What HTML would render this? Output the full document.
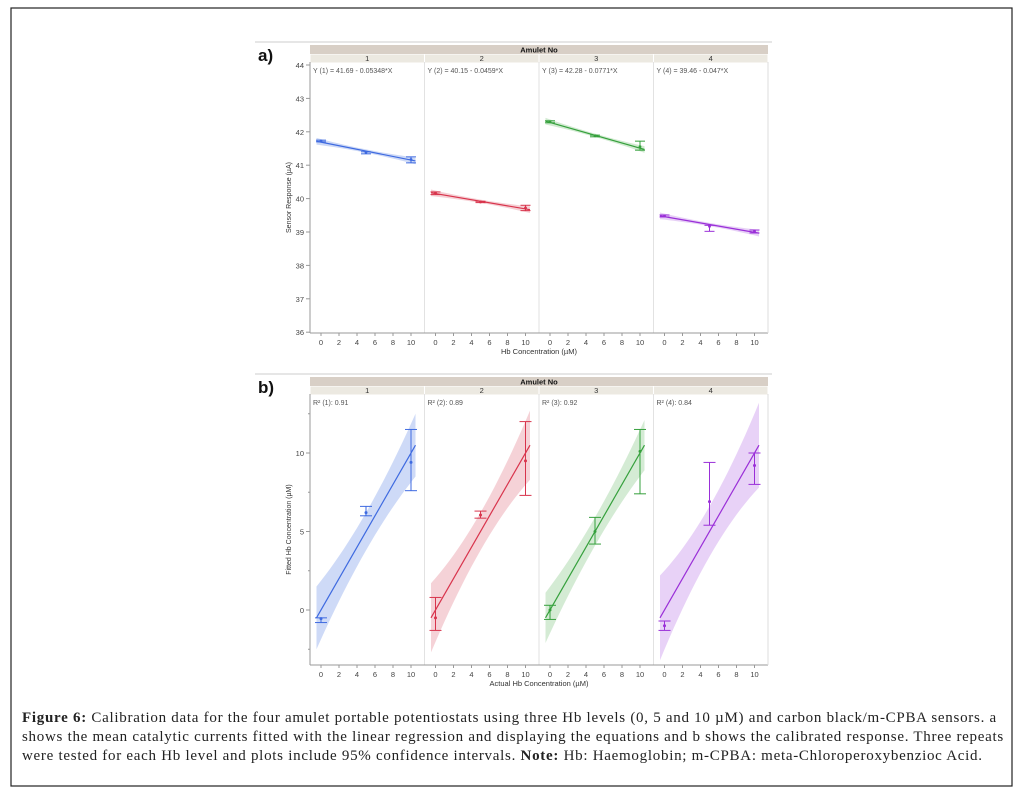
<!DOCTYPE html>
<html><head><meta charset="utf-8"><style>
body{margin:0;background:#fff;width:1020px;height:793px;overflow:hidden;position:relative}
svg{position:absolute;left:0;top:0}
.cap{position:absolute;left:22px;top:709px;width:990px;font-family:"Liberation Serif",serif;font-size:15px;letter-spacing:0.72px;line-height:19px;color:#222}
</style></head><body>
<svg id="fig" width="1020" height="793" xmlns="http://www.w3.org/2000/svg"></svg>
<div class="cap"><b>Figure 6:</b> Calibration data for the four amulet portable potentiostats using three Hb levels (0, 5 and 10 µM) and carbon black/m-CPBA sensors. a shows the mean catalytic currents fitted with the linear regression and displaying the equations and b shows the calibrated response. Three repeats were tested for each Hb level and plots include 95% confidence intervals. <b>Note:</b> Hb: Haemoglobin; m-CPBA: meta-Chloroperoxybenzioc Acid.</div>
<script>
const amulets=["1","2","3","4"];
const levels=[0,5,10];
// panel a data
const aIntercept=[41.69,40.15,42.28,39.46];
const aSlope=[-0.05348,-0.0459,-0.0771,-0.047];
const aMeans=[[41.72,41.38,41.17],[40.17,39.9,39.72],[42.3,41.88,41.55],[39.48,39.17,39.02]];
const aErrLo=[[41.70,41.34,41.07],[40.12,39.88,39.64],[42.27,41.85,41.45],[39.45,39.02,38.97]];
const aErrHi=[[41.75,41.40,41.25],[40.20,39.92,39.80],[42.33,41.90,41.72],[39.51,39.20,39.06]];
const aEq=["Y (1) = 41.69 - 0.05348*X","Y (2) = 40.15 - 0.0459*X","Y (3) = 42.28 - 0.0771*X","Y (4) = 39.46 - 0.047*X"];
const aYTicks=[36,37,38,39,40,41,42,43,44];
// panel b data
const bMeans=[[-0.55,6.2,9.4],[-0.5,6.05,9.5],[0.0,5.0,10.1],[-1.0,6.9,9.2]];
const bErrLo=[[-0.8,6.0,7.6],[-1.3,5.85,7.3],[-0.6,4.2,7.4],[-1.3,5.4,8.0]];
const bErrHi=[[-0.5,6.6,11.5],[0.8,6.3,12.0],[0.3,5.9,11.5],[-0.7,9.4,10.0]];
const bR2=["R² (1): 0.91","R² (2): 0.89","R² (3): 0.92","R² (4): 0.84"];
const bHwMid=[1.2,1.2,0.9,1.6];
const bHwEnd=[2.0,2.2,1.6,2.7];
const bYTicks=[0,5,10];
const xTicks=[0,2,4,6,8,10];
const colors=["#3e6ae0","#d8344c","#35a03c","#9a2fd8"];
const bands=["#c9d6f6","#f4cdd3","#cfe9cf","#e6cdf6"];

const svg=document.getElementById('fig');
const NS="http://www.w3.org/2000/svg";
function mk(tag,attrs,parent){const e=document.createElementNS(NS,tag);for(const k in attrs)e.setAttribute(k,attrs[k]);(parent||svg).appendChild(e);return e;}
function txt(s,x,y,size,anchor,fill,weight,parent){const t=mk('text',{x:x,y:y,'font-size':size,'text-anchor':anchor||'start',fill:fill||'#333','font-family':'Liberation Sans, sans-serif','font-weight':weight||'normal'},parent);t.textContent=s;return t;}

mk('rect',{x:11,y:8,width:1001,height:778,fill:'none',stroke:'#222','stroke-width':1.2});

const X0=310,PW=114.5;
function xs(p,v){return X0+p*PW+11+v*9;}

function drawPanel(cfg){
  const g=mk('g',{});
  
  
  mk('line',{x1:X0-55,y1:cfg.hTop-3,x2:X0+4*PW+4,y2:cfg.hTop-3,stroke:'#ccc'},g);
  txt(cfg.label,258,cfg.hTop+16,17,'start','#111','bold',g);
  const hb=mk('rect',{x:X0,y:cfg.hTop,width:4*PW,height:9,fill:'#d8cfc6'},g);
  
  txt('Amulet No',X0+2*PW,cfg.hTop+7.5,7.5,'middle','#111','bold',g);
  for(let p=0;p<4;p++){
    mk('rect',{x:X0+p*PW+0.5,y:cfg.hTop+9.5,width:PW-1,height:8,fill:'#ece9e1'},g);
    txt(amulets[p],X0+p*PW+PW/2,cfg.hTop+16,7.5,'middle','#333','normal',g);
    if(p>0)mk('line',{x1:X0+p*PW,y1:cfg.top,x2:X0+p*PW,y2:cfg.bot,stroke:'#e2e2e2'},g);
  }
  mk('line',{x1:X0,y1:cfg.top,x2:X0,y2:cfg.bot,stroke:'#999'},g);
  mk('line',{x1:X0,y1:cfg.bot,x2:X0+4*PW,y2:cfg.bot,stroke:'#999'},g);
  mk('line',{x1:X0+4*PW,y1:cfg.top,x2:X0+4*PW,y2:cfg.bot,stroke:'#ddd'},g);
  cfg.yTicks.forEach(v=>{const y=cfg.ys(v);mk('line',{x1:X0-4,y1:y,x2:X0,y2:y,stroke:'#999'},g);txt(String(v),X0-6,y+3,7.5,'end','#444','normal',g);});
  if(cfg.minor)cfg.minor.forEach(v=>{const y=cfg.ys(v);mk('line',{x1:X0-2,y1:y,x2:X0,y2:y,stroke:'#999'},g);});
  for(let p=0;p<4;p++)xTicks.forEach(v=>{const x=xs(p,v);mk('line',{x1:x,y1:cfg.bot,x2:x,y2:cfg.bot+3,stroke:'#999'},g);txt(String(v),x,cfg.bot+12,7.5,'middle','#444','normal',g);});
  txt(cfg.xTitle,X0+2*PW,cfg.bot+21,7.5,'middle','#333','normal',g);
  const yt=txt(cfg.yTitle,0,0,7,'middle','#333','normal',g);
  yt.setAttribute('transform','translate(291,'+((cfg.top+cfg.bot)/2)+') rotate(-90)');
  return g;
}

// Panel a
const aTop=62,aBot=333;
function yA(v){return 65+(44-v)*33.4;}
const ga=drawPanel({name:'panel-a',label:'a)',hTop:45,top:aTop,bot:aBot,ys:yA,yTicks:aYTicks,xTitle:'Hb Concentration (µM)',yTitle:'Sensor Response (µA)'});
for(let p=0;p<4;p++){
  const c=colors[p];
  txt(aEq[p],X0+p*PW+3,aTop+11,7,'start','#555','normal',ga);
  const f=x=>aIntercept[p]+aSlope[p]*x;
  const hw=x=>0.05+0.05*((x-5)/5.5)**2;
  let up=[],dn=[];
  for(let x=-0.5;x<=10.51;x+=0.5){up.push(xs(p,x)+','+yA(f(x)+hw(x)));dn.unshift(xs(p,x)+','+yA(f(x)-hw(x)));}
  const band=mk('polygon',{points:up.concat(dn).join(' '),fill:bands[p],opacity:0.95},ga);
  
  const ln=mk('line',{x1:xs(p,-0.5),y1:yA(f(-0.5)),x2:xs(p,10.5),y2:yA(f(10.5)),stroke:c,'stroke-width':1.2},ga);
  
  levels.forEach((L,i)=>{
    const x=xs(p,L);
    mk('line',{x1:x,y1:yA(aErrLo[p][i]),x2:x,y2:yA(aErrHi[p][i]),stroke:c},ga);
    mk('line',{x1:x-5,y1:yA(aErrLo[p][i]),x2:x+5,y2:yA(aErrLo[p][i]),stroke:c},ga);
    mk('line',{x1:x-5,y1:yA(aErrHi[p][i]),x2:x+5,y2:yA(aErrHi[p][i]),stroke:c},ga);
    const pt=mk('circle',{cx:x,cy:yA(aMeans[p][i]),r:1.4,fill:c},ga);
    
  });
}

// Panel b
const bTop=394,bBot=665;
function yB(v){return 610-v*15.7;}
const gb=drawPanel({name:'panel-b',label:'b)',hTop:377,top:bTop,bot:bBot,ys:yB,yTicks:bYTicks,minor:[-2.5,2.5,7.5,12.5],xTitle:'Actual Hb Concentration (µM)',yTitle:'Fitted Hb Concentration (µM)'});
for(let p=0;p<4;p++){
  const c=colors[p];
  txt(bR2[p],X0+p*PW+3,bTop+11,7,'start','#555','normal',gb);
  const hw=x=>bHwMid[p]+(bHwEnd[p]-bHwMid[p])*((x-5)/5.5)**2;
  let up=[],dn=[];
  for(let x=-0.5;x<=10.51;x+=0.5){up.push(xs(p,x)+','+yB(x+hw(x)));dn.unshift(xs(p,x)+','+yB(x-hw(x)));}
  const band=mk('polygon',{points:up.concat(dn).join(' '),fill:bands[p],opacity:0.9},gb);
  
  const ln=mk('line',{x1:xs(p,-0.5),y1:yB(-0.5),x2:xs(p,10.5),y2:yB(10.5),stroke:c,'stroke-width':1.2},gb);
  
  levels.forEach((L,i)=>{
    const x=xs(p,L);
    mk('line',{x1:x,y1:yB(bErrLo[p][i]),x2:x,y2:yB(bErrHi[p][i]),stroke:c},gb);
    mk('line',{x1:x-6,y1:yB(bErrLo[p][i]),x2:x+6,y2:yB(bErrLo[p][i]),stroke:c},gb);
    mk('line',{x1:x-6,y1:yB(bErrHi[p][i]),x2:x+6,y2:yB(bErrHi[p][i]),stroke:c},gb);
    const pt=mk('circle',{cx:x,cy:yB(bMeans[p][i]),r:1.5,fill:c},gb);
    
  });
}
</script>
</body></html>
